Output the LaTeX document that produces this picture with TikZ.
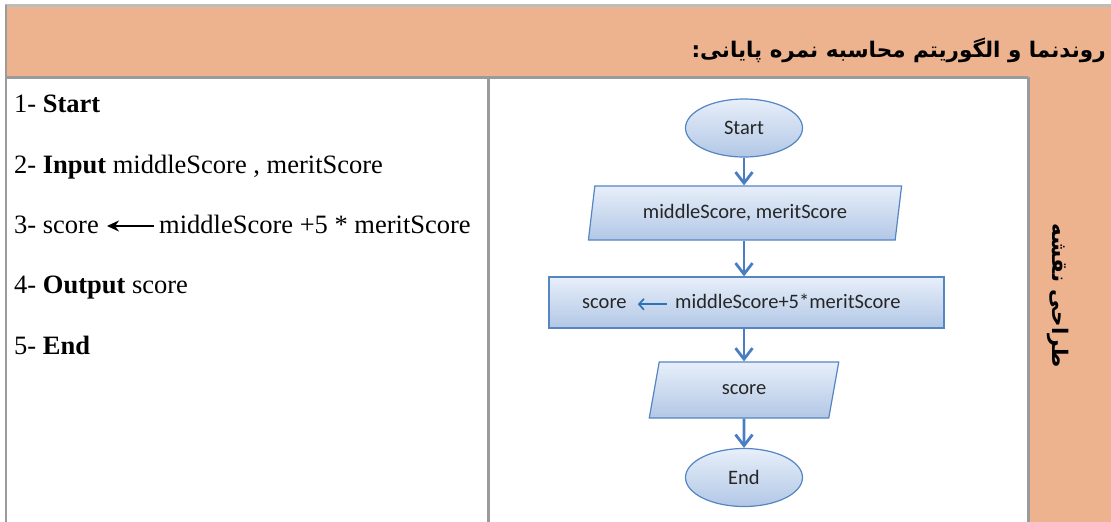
\documentclass[tikz,border=0pt]{standalone}
\usepackage{fontspec}
\setmainfont{Liberation Serif}
\newfontfamily\boxfont{Carlito}
\newfontfamily\farsifont[Script=Arabic]{DejaVu Sans}
\TeXXeTstate=1
\usetikzlibrary{shapes.geometric,arrows.meta}

\definecolor{headorange}{HTML}{EDB38F}
\definecolor{rulegray}{HTML}{9B9B9B}
\definecolor{toprule}{HTML}{BDBDBD}
\definecolor{boxline}{HTML}{5585C2}
\definecolor{boxtop}{HTML}{E7EFF9}
\definecolor{boxbottom}{HTML}{B2C7E6}
\definecolor{flowblue}{HTML}{4A7EC1}
\definecolor{innerblue}{HTML}{2E74B5}

\tikzset{
    flowbox/.style = { draw=boxline, line width=1.2pt, top color=boxtop, bottom color=boxbottom,
        font=\boxfont\fontsize{20.5}{24}\selectfont, text=black!85, inner sep=0pt },
    terminal/.style = { flowbox, ellipse, minimum width=117pt, minimum height=58pt },
    inout/.style = { flowbox, trapezium, trapezium stretches=true,
        trapezium left angle=75.5, trapezium right angle=104.5 },
    process/.style = { flowbox, rectangle },
    flowtext/.style = { font=\boxfont\fontsize{20.5}{24}\selectfont, text=black!85,
        inner sep=0pt, text height=7.5pt, text depth=0pt },
    steptext/.style = { font=\fontsize{26.5}{30}\selectfont, inner sep=0pt,
        text height=14pt, text depth=0pt },
    headtext/.style = { font=\farsifont\bfseries\fontsize{21.5}{26}\selectfont, inner sep=0pt },
    flow/.style = { draw=flowblue, line width=2.8pt, -{Straight Barb[length=11pt,width=17pt]} },
    innerarrow/.style = { draw=innerblue, line width=1.7pt, -{Straight Barb[length=5pt,width=11pt]} },
    steparrow/.style = { draw=black, line width=2.4pt, -{Stealth[length=12pt,width=11pt]} },
    rule/.style = { draw=rulegray, line width=2.6pt }
}

\begin{document}
\begin{tikzpicture}[x=1pt,y=-1pt]
    \useasboundingbox ( 0, 0 ) rectangle ( 1111, 522 );

    % table
    \fill [ headorange ] ( 6, 6 ) rectangle ( 1111, 77 );
    \fill [ headorange ] ( 1028, 77 ) rectangle ( 1111, 522 );
    \draw [ rule, draw=toprule ] ( 5, 5.5 ) -- ( 1111, 5.5 );
    \draw [ rule ] ( 6, 5 ) -- ( 6, 522 );
    \draw [ rule ] ( 6, 77.5 ) -- ( 1028, 77.5 );
    \draw [ rule ] ( 488.5, 77 ) -- ( 488.5, 522 );
    \draw [ rule ] ( 1028.5, 77 ) -- ( 1028.5, 522 );

    % headings
    \node [ headtext, anchor=east ] (title) at ( 1106, 50 ) {\beginR روندنما و الگوریتم محاسبه نمره پایانی:\endR};
    \node [ headtext, rotate=-90 ] (side) at ( 1058, 296 ) {\beginR طراحی نقشه\endR};

    % algorithm
    \node [ steptext, anchor=base west ] (s1) at ( 14, 112 ) {1- \textbf{Start}};
    \node [ steptext, anchor=base west ] (s2) at ( 14, 173 ) {2- \textbf{Input} middleScore , meritScore};
    \node [ steptext, anchor=base west ] (s3) at ( 14, 233 ) {3- score};
    \node [ steptext, anchor=base west ] (s3b) at ( 159, 233 ) {middleScore +5 * meritScore};
    \node [ steptext, anchor=base west ] (s4) at ( 14, 293 ) {4- \textbf{Output} score};
    \node [ steptext, anchor=base west ] (s5) at ( 14, 354 ) {5- \textbf{End}};
    \draw [ steparrow, shorten <=5pt, shorten >=8pt ] (s3b.west) -- (s3.east);

    % flowchart
    \node [ terminal ] (start) at ( 744, 128 ) {Start};
    \node [ inout, minimum width=314pt, minimum height=54pt ] (input) at ( 745, 213 ) {middleScore, meritScore};
    \node [ process, minimum width=395pt, minimum height=51pt ] (calc) at ( 746.5, 302.5 ) {};
    \node [ inout, minimum width=190pt, minimum height=56pt ] (output) at ( 744, 390 ) {score};
    \node [ terminal ] (end) at ( 744, 477.5 ) {End};

    \node [ flowtext, anchor=base west ] (lhs) at ( 582, 308 ) {score};
    \node [ flowtext, anchor=base west ] (rhs) at ( 675, 308 ) {middleScore+5*meritScore};
    \draw [ innerarrow, shorten <=8pt, shorten >=11pt ] (rhs.west) -- (lhs.east);

    \draw [ flow ] (start) -- (start |- input.north);
    \draw [ flow ] (start |- input.south) -- (start |- calc.north);
    \draw [ flow ] (start |- calc.south) -- (start |- output.north);
    \draw [ flow ] (output) -- (end);
\end{tikzpicture}
\end{document}
